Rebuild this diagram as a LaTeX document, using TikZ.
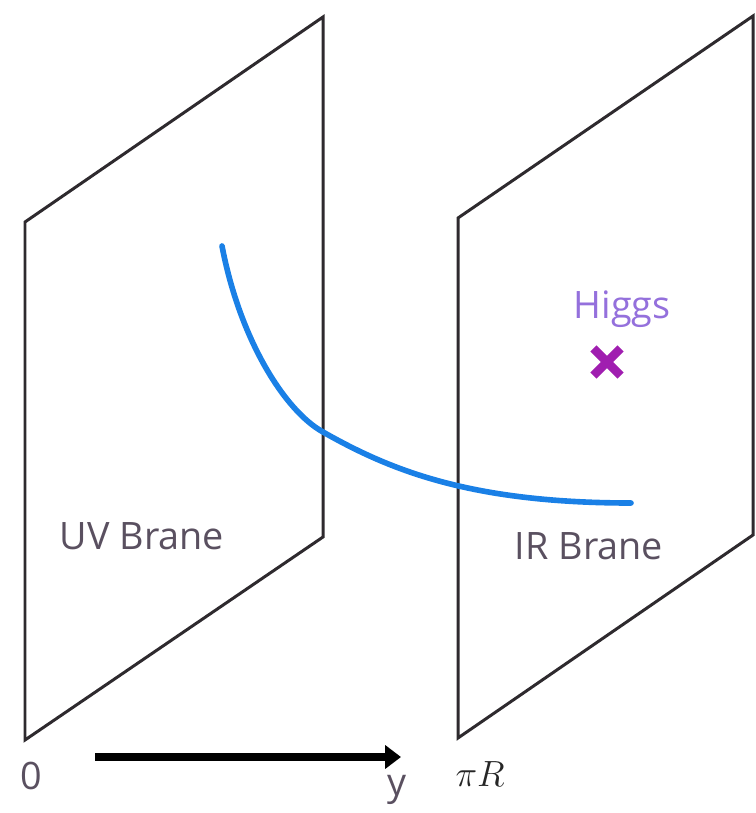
\documentclass[tikz,border=0pt]{standalone}
\usepackage{fontspec}
\setmainfont{Open Sans}
\usetikzlibrary{arrows.meta}
\definecolor{branegray}{HTML}{2E2A2E}
\definecolor{labelgray}{HTML}{5A5060}
\definecolor{bulkblue}{HTML}{1A80E6}
\definecolor{higgsviolet}{HTML}{9470DC}
\definecolor{crossmagenta}{HTML}{A01EB0}
\tikzset{
  brane/.style={draw=branegray, line width=1.7pt, line join=miter},
  lbl/.style={text=labelgray, font=\fontsize{21.5}{24}\selectfont, inner sep=0pt},
  prop/.style={draw=bulkblue, line width=3.2pt, line cap=round},
  axisarrow/.style={line width=4pt, -{Triangle[length=9pt,width=13pt]}},
}
\begin{document}
\begin{tikzpicture}[x=0.02cm, y=-0.02cm]
  \useasboundingbox (0,0) rectangle (755,813);
  % brane corners
  \coordinate (uvbl) at (25,740);
  \coordinate (uvtl) at (25,222);
  \coordinate (uvtr) at (323,17);
  \coordinate (uvbr) at (323,537);
  \coordinate (irbl) at (458,738);
  \coordinate (irtl) at (458,218);
  \coordinate (irtr) at (753,16);
  \coordinate (irbr) at (753,535);
  \draw[brane] (uvbl) -- (uvtl) -- (uvtr) -- (uvbr) -- cycle;
  \draw[brane] (irbl) -- (irtl) -- (irtr) -- (irbr) -- cycle;
  % bulk profile
  \coordinate (pstart) at (222,246);
  \coordinate (pmid) at (323,432);
  \coordinate (pend) at (631,503);
  \draw[prop] (pstart) .. controls (240,340) and (285,411) .. (pmid)
    .. controls (390,470) and (470,503) .. (pend);
  % labels
  \node[lbl] (uv) at (142,536) {UV Brane};
  \node[lbl] (ir) at (589,546) {IR Brane};
  \node[lbl, text=higgsviolet] (higgs) at (622,309) {Higgs};
  \node[inner sep=0pt, minimum size=15pt] (hx) at (607,362) {};
  \draw[crossmagenta, line width=5pt] (hx.north west) -- (hx.south east)
    (hx.north east) -- (hx.south west);
  % y axis
  \coordinate (ystart) at (95,757);
  \coordinate (yend) at (401,757);
  \draw[axisarrow] (ystart) -- (yend);
  \node[lbl] (zero) at (31,776) {0};
  \node[lbl] (ylab) at (397,790) {y};
  \node[inner sep=0pt, text=black!85, font=\fontsize{22}{24}\selectfont] (pir) at (480,774) {$\pi R$};
\end{tikzpicture}
\end{document}
